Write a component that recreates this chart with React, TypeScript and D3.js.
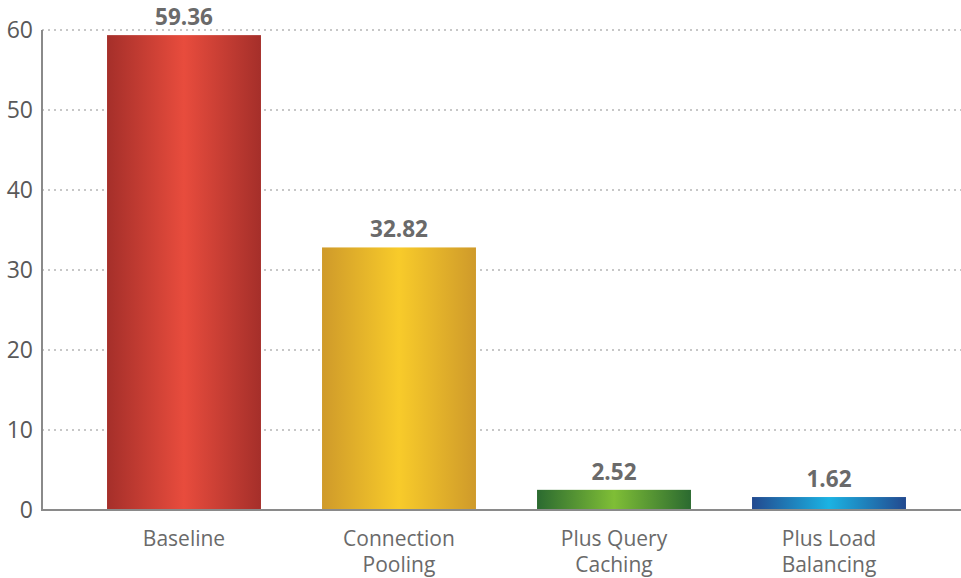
import React from "react";
import * as d3 from "d3";

const categories: string[][] = [
  ["Baseline"],
  ["Connection", "Pooling"],
  ["Plus Query", "Caching"],
  ["Plus Load", "Balancing"],
];
const values: number[] = [59.36, 32.82, 2.52, 1.62];
const yTicks: number[] = [0, 10, 20, 30, 40, 50, 60];
const barColors: [string, string][] = [
  ["#a52f2a", "#e84c3d"],
  ["#cf9a2a", "#f8cb2a"],
  ["#2b6a30", "#7fbe36"],
  ["#22498f", "#1bb3e3"],
];

const W = 961;
const H = 578;
const axisX = 42;
const y0 = 510;
const yTop = 30;

export default function App() {
  const y = d3.scaleLinear().domain([0, 60]).range([y0, yTop]);
  const x = d3
    .scaleBand<number>()
    .domain(values.map((_, i) => i))
    .range([76.5, 936.5])
    .paddingInner(0.284)
    .paddingOuter(0.142);
  const font = "'Open Sans', 'Segoe UI', sans-serif";
  return (
    <svg
      width={W}
      height={H}
      style={{ position: "absolute", left: 0, top: 0, background: "#fff" }}
      fontFamily={font}
    >
      <defs>
        {barColors.map((c, i) => (
          <linearGradient key={i} id={`g${i}`} x1="0" x2="1" y1="0" y2="0">
            <stop offset="0%" stopColor={c[0]} />
            <stop offset="50%" stopColor={c[1]} />
            <stop offset="100%" stopColor={c[0]} />
          </linearGradient>
        ))}
      </defs>
      {yTicks.map((t) => (
        <g key={t}>
          {t > 0 && (
            <line
              x1={axisX}
              x2={W}
              y1={y(t)}
              y2={y(t)}
              stroke="#b5b5b5"
              strokeWidth={1.3}
              strokeDasharray="2 4"
            />
          )}
          <text
            x={33}
            y={y(t)}
            dy="0.35em"
            textAnchor="end"
            fontSize={23}
            fill="#595959"
          >
            {t}
          </text>
        </g>
      ))}
      {values.map((v, i) => (
        <g key={i}>
          <rect
            x={x(i)}
            y={y(v)}
            width={x.bandwidth()}
            height={y0 - y(v)}
            fill={`url(#g${i})`}
          />
          <text
            x={(x(i) as number) + x.bandwidth() / 2}
            y={y(v) - 10}
            textAnchor="middle"
            fontSize={22.5}
            fontWeight="bold"
            fill="#6a6a6a"
          >
            {v.toFixed(2)}
          </text>
          {categories[i].map((line, j) => (
            <text
              key={j}
              x={(x(i) as number) + x.bandwidth() / 2}
              y={539 + j * 26}
              dy="0.35em"
              textAnchor="middle"
              fontSize={21}
              fill="#6a6a6a"
            >
              {line}
            </text>
          ))}
        </g>
      ))}
      <line x1={axisX} x2={axisX} y1={yTop} y2={y0} stroke="#8a8a8a" strokeWidth={2} />
      <line x1={axisX - 1} x2={W} y1={y0} y2={y0} stroke="#8a8a8a" strokeWidth={2} />
    </svg>
  );
}
